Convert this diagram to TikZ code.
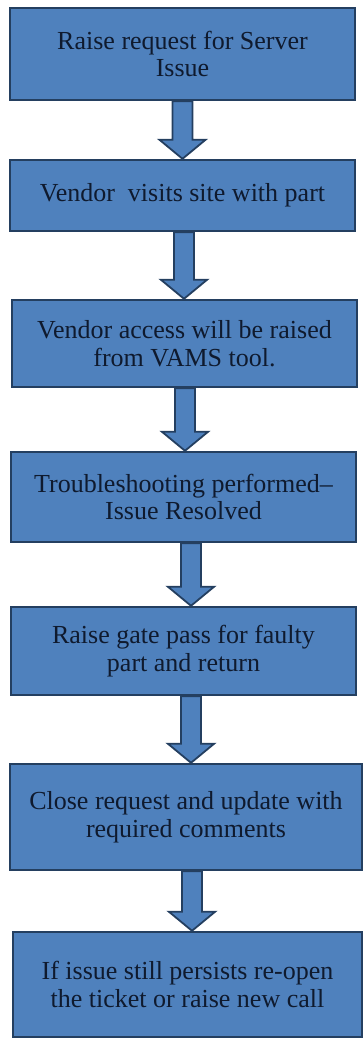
\documentclass[tikz,border=0pt]{standalone}
\usepackage{fontspec}
\setmainfont{Liberation Serif}
\usetikzlibrary{calc}
\definecolor{boxblue}{HTML}{4F81BD}
\definecolor{boxedge}{HTML}{243F60}
\definecolor{textnavy}{HTML}{0F1A2E}
\tikzset{
  stepbox/.style={draw=boxedge, line width=2.4pt, fill=boxblue, text=textnavy,
    minimum width=345pt, align=center, inner sep=0pt,
    font=\fontsize{26}{27.5}\selectfont},
  fatarrow/.style={draw=boxedge, line width=1.8pt, fill=boxblue, line join=miter}
}
\begin{document}
\begin{tikzpicture}[x=1pt,y=-1pt]
\useasboundingbox (0,0) rectangle (363,1039);
            \node [stepbox, minimum height=92pt] (b1) at (182.5,54) {Raise request for Server\\Issue};
            \node [stepbox, minimum height=71pt] (b2) at (182.5,195.5) {Vendor\ \ visits site with part};
            \node [stepbox, minimum height=87pt] (b3) at (184.5,343.5) {Vendor access will be raised\\from VAMS tool.};
            \node [stepbox, minimum height=90pt] (b4) at (183.5,497) {Troubleshooting performed--\\Issue Resolved};
            \node [stepbox, minimum height=88pt] (b5) at (183.5,651) {Raise gate pass for faulty\\part and return};
            \node [stepbox, minimum height=106pt, minimum width=352pt] (b6) at (186,817) {Close request and update with\\required comments};
            \node [stepbox, minimum height=105pt, minimum width=349pt] (b7) at (187.5,984.5) {If issue still persists re-open\\the ticket or raise new call};
            \foreach \a/\b/\d in {b1/b2/0,b2/b3/1.5,b3/b4/0.5,b4/b5/7.5,b5/b6/7.5,b6/b7/6}
              \draw [fatarrow] let \p1=(\a.south), \p2=(\b.north) in
                (\x1+\d-10,\y1) -- (\x1+\d+10,\y1) -- (\x1+\d+10,\y2+19) -- (\x1+\d+23,\y2+19)
                -- (\x1+\d,\y2) -- (\x1+\d-23,\y2+19) -- (\x1+\d-10,\y2+19) -- cycle;
        \end{tikzpicture}
\end{document}
